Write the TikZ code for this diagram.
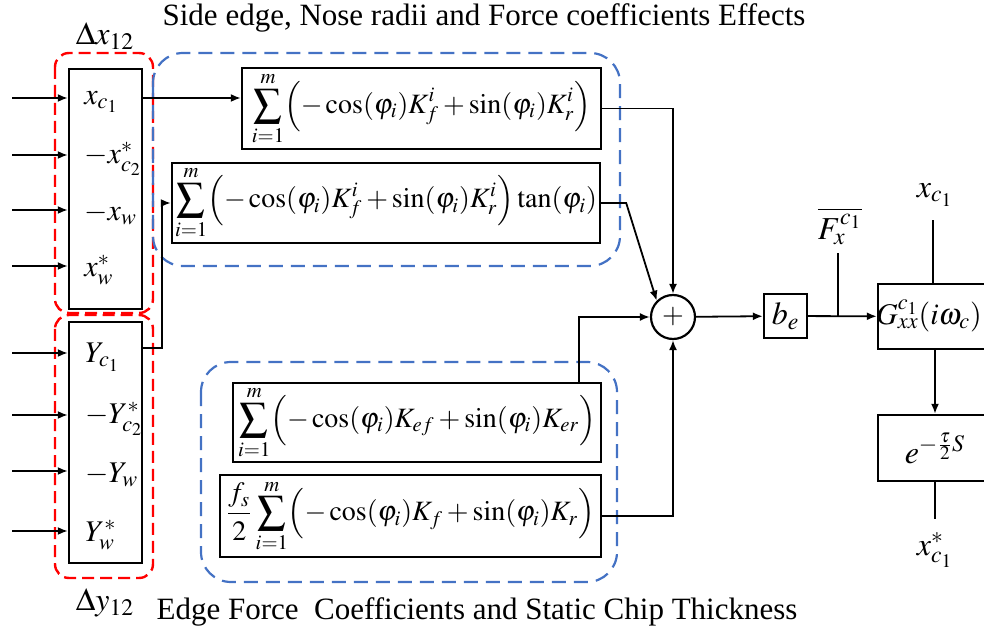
\documentclass[tikz,border=0pt]{standalone}
\usepackage{mathptmx}
\usepackage[no-math]{fontspec}
\setmainfont{Liberation Serif}
\usetikzlibrary{arrows.meta,positioning}
\definecolor{grpblue}{RGB}{68,114,196}
\definecolor{grpred}{RGB}{255,0,0}
\begin{document}
\begin{tikzpicture}[x=0.5pt,y=-0.5pt,font=\fontsize{14}{17}\selectfont,
    blk/.style={draw,line width=1.2pt,inner sep=0pt},
    sig/.style={line width=0.9pt,-{Latex[length=5pt,width=4pt]}},
    wire/.style={line width=0.9pt},
    big/.style={font=\fontsize{16}{19}\selectfont},
    mid/.style={font=\fontsize{15}{18}\selectfont},
    redgrp/.style={draw=grpred,dash pattern=on 6pt off 3pt,line width=1.2pt,rounded corners=7pt},
    bluegrp/.style={draw=grpblue,dash pattern=on 7pt off 4pt,line width=1.1pt,rounded corners=15pt},
    ttl/.style={font=\fontsize{15.5}{18}\selectfont}]
    \useasboundingbox (0,0) rectangle (984,630);
    % groups
    \begin{scope}
      \draw[redgrp]  (55,53) rectangle (153,313);
      \draw[redgrp]  (55,315) rectangle (153,578);
      \draw[bluegrp] (153,53) rectangle (620,266);
      \draw[bluegrp] (201,362) rectangle (617,582);
    \end{scope}
    \node[ttl] (toptitle) at (484,18) {Side edge, Nose radii and Force coefficients Effects};
    \node[ttl] (bottitle) at (477,612) {Edge Force\ \ Coefficients and Static Chip Thickness};
    \node[big] (dx) at (105,36) {$\Delta x_{12}$};
    \node[big] (dy) at (105,603) {$\Delta y_{12}$};
    % input blocks
    \node[blk,minimum width=36.5pt,minimum height=120pt] (xbox) at (105.5,189) {};
    \node[blk,minimum width=36.5pt,minimum height=120.5pt] (ybox) at (105.5,442.5) {};
    \foreach \n/\y/\l in {1/98/x_{c_1},2/155/-x^{*}_{c_2},3/210/-x_{w},4/266/x^{*}_{w}}{
      \coordinate (inx\n) at (12,\y);
      \draw[sig] (inx\n) -- (inx\n -| xbox.west);
      \node[mid,anchor=west,inner sep=0pt] (lx\n) at (84,\y+4) {$\l$};
    }
    \foreach \n/\y/\l in {1/353/Y_{c_1},2/415/-Y^{*}_{c_2},3/471/-Y_{w},4/531/Y^{*}_{w}}{
      \coordinate (iny\n) at (12,\y);
      \draw[sig] (iny\n) -- (iny\n -| ybox.west);
      \node[mid,anchor=west,inner sep=0pt] (ly\n) at (85,\y+4) {$\l$};
    }
    % force terms
    \node[blk,minimum width=179.5pt,minimum height=40.5pt] (fa) at (421.5,108.5)
      {$\displaystyle\sum_{i=1}^{m}\Bigl(-\cos(\varphi_i)K_f^i+\sin(\varphi_i)K_r^i\Bigr)$};
    \node[blk,minimum width=214pt,minimum height=40pt] (fb) at (386,203)
      {$\displaystyle\sum_{i=1}^{m}\Bigl(-\cos(\varphi_i)K_f^i+\sin(\varphi_i)K_r^i\Bigr)\tan(\varphi_i)$};
    \node[blk,minimum width=184pt,minimum height=39.5pt] (fc) at (417,422.5)
      {$\displaystyle\sum_{i=1}^{m}\Bigl(-\cos(\varphi_i)K_{ef}+\sin(\varphi_i)K_{er}\Bigr)$};
    \node[blk,minimum width=190.5pt,minimum height=41pt] (fd) at (410.5,516)
      {$\displaystyle\frac{f_s}{2}\sum_{i=1}^{m}\Bigl(-\cos(\varphi_i)K_f+\sin(\varphi_i)K_r\Bigr)$};
    \node[draw,circle,line width=1.1pt,minimum size=22pt,inner sep=0pt] (sum) at (673,317) {$+$};
    \node[blk,big,minimum width=21.5pt,minimum height=22pt] (be) at (785.5,316) {$b_e$};
    \node[blk,minimum width=57pt,minimum height=32.5pt] (gxx) at (935,316.5) {};
    \node[mid] (gtxt) at (929,316) {$G_{xx}^{c_1}(i\omega_c)$};
    \node[blk,big,minimum width=57pt,minimum height=33pt] (delay) at (935,448) {$e^{-\frac{\tau}{2}S}$};
    % connections
    \draw[sig] (inx1 -| xbox.east) -- (inx1 -| fa.west);
    \draw[sig] (ybox.east |- 0,348) -- ++(19,0) |- (fb.west);
    \draw[sig] (fa.east) -| (sum.north);
    \draw[sig] (fb.east) -- ++(25,0) -- (sum.north west);
    \draw[sig] (fc.north east) ++(-23,0) |- (sum.west);
    \draw[sig] (fd.east) -| (sum.south);
    \draw[sig] (sum) -- (be);
    \draw[sig] (be) -- (gxx);
    \draw[sig] (gxx) -- (delay);
    \coordinate (fxtop) at (838,253);
    \coordinate (xtop) at (933,220);
    \coordinate (xbot) at (935,519);
    \draw[wire] (be.east -| fxtop) -- (fxtop);
    \draw[wire] (gxx.north -| xtop) -- (xtop);
    \draw[wire] (delay.south -| xbot) -- (xbot);
    \node[big] (fx) at (840,226) {$\overline{F_x^{c_1}}$};
    \node[big] (xout) at (935,195) {$x_{c_1}$};
    \node[big] (xdel) at (935,550) {$x^{*}_{c_1}$};
  \end{tikzpicture}
\end{document}
